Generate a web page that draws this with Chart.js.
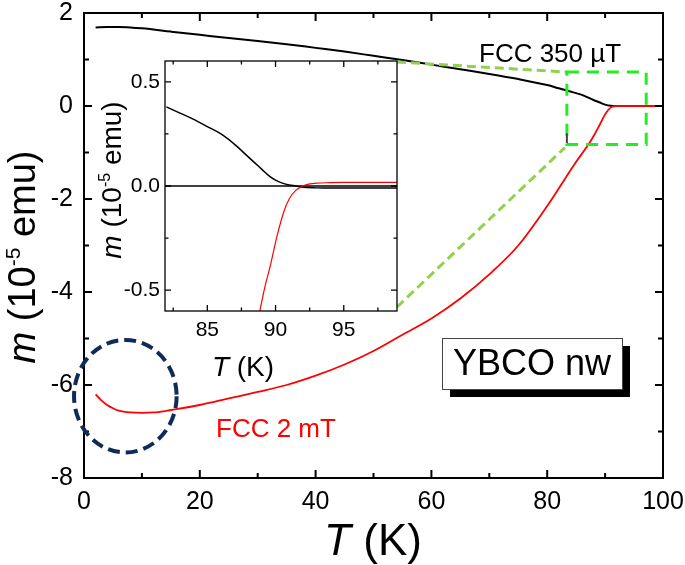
<!DOCTYPE html>
<html>
<head>
<meta charset="utf-8">
<script src="https://cdn.jsdelivr.net/npm/chart.js@4.4.0/dist/chart.umd.min.js"></script>
<style>
  body { margin: 0; background: #fff; }
  #wrap { position: relative; width: 685px; height: 565px; }
  #main { position: absolute; left: 0; top: 0; }
  #inset { position: absolute; left: 86px; top: 50px; }
</style>
</head>
<body>
<div id="wrap">
  <canvas id="main" width="685" height="565"></canvas>
  <canvas id="inset" width="325" height="340"></canvas>
</div>
<script>
// FCC 350 µT (negro)
const tBlack = [2, 4, 6, 8, 10, 15, 20, 25, 30, 35, 40, 45, 50, 55, 60, 65, 70, 75, 80, 82, 84, 86, 88, 89, 90, 91, 92, 94, 96, 98, 100];
const mBlack = [1.69, 1.70, 1.70, 1.69, 1.67, 1.60, 1.53, 1.46, 1.40, 1.33, 1.25, 1.17, 1.08, 0.99, 0.89, 0.79, 0.69, 0.58, 0.45, 0.38, 0.31, 0.24, 0.13, 0.08, 0.03, 0.005, 0, 0, 0, 0, 0];

// FCC 2 mT (rojo)
const tRed = [2, 3, 4, 5, 6, 8, 10, 12, 14, 16, 20, 25, 30, 35, 40, 45, 50, 55, 60, 65, 70, 75, 80, 83, 85, 87, 88, 89, 90, 91, 92, 94, 96, 98, 100];
const mRed = [-6.20, -6.33, -6.43, -6.50, -6.55, -6.59, -6.60, -6.59, -6.56, -6.52, -6.43, -6.29, -6.15, -6.00, -5.80, -5.56, -5.27, -4.92, -4.57, -4.14, -3.62, -3.00, -2.15, -1.58, -1.20, -0.85, -0.65, -0.42, -0.18, -0.03, 0, 0, 0, 0, 0];

// inset
const tInsBlack = [82, 83, 84, 85, 86, 87, 88, 88.5, 89, 89.5, 90, 90.5, 91, 91.5, 92, 93, 94, 95, 96, 97, 98, 99];
const mInsBlack = [0.38, 0.35, 0.32, 0.285, 0.25, 0.20, 0.14, 0.11, 0.08, 0.05, 0.028, 0.014, 0.005, 0, -0.006, -0.009, -0.01, -0.01, -0.01, -0.01, -0.01, -0.01];
const tInsRed = [88.85, 89.2, 89.6, 90.1, 90.6, 91.0, 91.5, 92.0, 92.5, 93, 94, 95, 96, 97, 98, 99];
const mInsRed = [-0.60, -0.49, -0.387, -0.243, -0.125, -0.062, -0.02, 0, 0.01, 0.014, 0.016, 0.017, 0.017, 0.017, 0.017, 0.017];

// ticks
const mainTTicks = [0, 20, 40, 60, 80, 100];
const mainTMinor = [10, 30, 50, 70, 90];
const mainMTicks = [-8, -6, -4, -2, 0, 2];
const mainMMinor = [-7, -5, -3, -1, 1];
const insTTicks = [85, 90, 95];
const insTMinor = [82.5, 87.5, 92.5, 97.5];
const insMTicks = [-0.5, 0, 0.5];
const insMMinor = [-0.25, 0.25];

// recuadro de zoom y elipse (en unidades de datos)
const zoomBoxT = [83.4, 97.1];
const zoomBoxM = [-0.83, 0.73];
const ellipseC = [7.14, -6.24];
const ellipseR = [8.86, 1.21];

const INSET_X = 86, INSET_Y = 50;
const FONT = '"Liberation Sans", Arial, sans-serif';
Chart.defaults.font.family = FONT;
Chart.defaults.color = '#000';

function pts(xs, ys) { return xs.map((x, i) => ({ x: x, y: ys[i] })); }

function drawParts(ctx, parts, x, y) {
  let w = 0;
  parts.forEach(p => { ctx.font = p.font; p.w = ctx.measureText(p.t).width; w += p.w; });
  let cx = x - w / 2;
  ctx.textAlign = 'left';
  ctx.textBaseline = 'alphabetic';
  parts.forEach(p => { ctx.font = p.font; ctx.fillText(p.t, cx, y + (p.dy || 0)); cx += p.w; });
}

function drawTicks(ctx, chart, xs, ys, len) {
  const a = chart.chartArea, sx = chart.scales.x, sy = chart.scales.y;
  ctx.beginPath();
  xs.forEach(v => {
    const px = sx.getPixelForValue(v);
    ctx.moveTo(px, a.bottom); ctx.lineTo(px, a.bottom - len);
    ctx.moveTo(px, a.top); ctx.lineTo(px, a.top + len);
  });
  ys.forEach(v => {
    const py = sy.getPixelForValue(v);
    ctx.moveTo(a.left, py); ctx.lineTo(a.left + len, py);
    ctx.moveTo(a.right, py); ctx.lineTo(a.right - len, py);
  });
  ctx.stroke();
}

// escala con ticks fijos; tamaño fijo y sin relleno automático
function tickScale(list, size, extra) {
  return Object.assign({
    type: 'linear',
    afterBuildTicks: s => { s.ticks = list.map(v => ({ value: v })); },
    afterFit: s => {
      if (s.isHorizontal()) s.height = size; else s.width = size;
      s.paddingTop = s.paddingBottom = s.paddingLeft = s.paddingRight = 0;
    },
    grid: { display: false, drawTicks: false },
    border: { display: false }
  }, extra);
}

// ---------- inset ----------
const insetDeco = {
  id: 'insetDeco',
  beforeDatasetsDraw(chart) {
    const ctx = chart.ctx, a = chart.chartArea;
    ctx.save();
    ctx.fillStyle = '#fff';
    ctx.fillRect(a.left, a.top, a.right - a.left, a.bottom - a.top);
    const y0 = chart.scales.y.getPixelForValue(0);
    ctx.strokeStyle = '#000';
    ctx.lineWidth = 1.3;
    ctx.beginPath(); ctx.moveTo(a.left, y0); ctx.lineTo(a.right, y0); ctx.stroke();
    ctx.restore();
  },
  afterDraw(chart) {
    const ctx = chart.ctx, a = chart.chartArea;
    ctx.save();
    ctx.strokeStyle = '#000';
    ctx.lineWidth = 1.3;
    ctx.strokeRect(a.left, a.top, a.right - a.left, a.bottom - a.top);
    drawTicks(ctx, chart, insTTicks, insMTicks, 6);
    drawTicks(ctx, chart, insTMinor, insMMinor, 3.5);
    ctx.fillStyle = '#000';
    drawParts(ctx, [
      { t: 'T', font: 'italic 28px ' + FONT },
      { t: ' (K)', font: '28px ' + FONT }
    ], 157, 326);
    ctx.translate(35, 130);
    ctx.rotate(-Math.PI / 2);
    drawParts(ctx, [
      { t: 'm', font: 'italic 28px ' + FONT },
      { t: ' (10', font: '28px ' + FONT },
      { t: '-5', font: '16px ' + FONT, dy: -11 },
      { t: ' emu)', font: '28px ' + FONT }
    ], 0, 0);
    ctx.restore();
  }
};

const inset = new Chart(document.getElementById('inset'), {
  type: 'line',
  data: {
    datasets: [
      { data: pts(tInsRed, mInsRed), borderColor: '#ff0000', borderWidth: 1.2, pointRadius: 0, cubicInterpolationMode: 'monotone' },
      { data: pts(tInsBlack, mInsBlack), borderColor: '#000', borderWidth: 1.5, pointRadius: 0, cubicInterpolationMode: 'monotone' }
    ]
  },
  options: {
    responsive: false,
    animation: false,
    events: [],
    layout: { autoPadding: false, padding: { top: 11, right: 14, left: 0, bottom: 0 } },
    plugins: { legend: { display: false }, tooltip: { enabled: false } },
    scales: {
      x: tickScale(insTTicks, 79, {
        min: 81.9, max: 98.9,
        ticks: { padding: 7, font: { size: 21 }, maxRotation: 0, autoSkip: false }
      }),
      y: tickScale(insMTicks, 79, {
        min: -0.6, max: 0.6,
        ticks: { padding: 5, font: { size: 21 }, callback: v => v.toFixed(1) }
      })
    }
  },
  plugins: [insetDeco]
});

// ---------- principal ----------
const mainDeco = {
  id: 'mainDeco',
  afterDraw(chart) {
    const ctx = chart.ctx, a = chart.chartArea;
    const sx = chart.scales.x, sy = chart.scales.y;
    ctx.save();
    ctx.strokeStyle = '#000';
    ctx.lineWidth = 2;
    ctx.strokeRect(a.left, a.top, a.right - a.left, a.bottom - a.top);
    drawTicks(ctx, chart, mainTTicks, mainMTicks, 8);
    drawTicks(ctx, chart, mainTMinor, mainMMinor, 5);

    // líneas verdes hacia el inset
    const ia = inset.chartArea;
    const bx = sx.getPixelForValue(zoomBoxT[0]);
    ctx.strokeStyle = '#92d050';
    ctx.lineWidth = 3;
    ctx.setLineDash([9, 5]);
    ctx.beginPath();
    ctx.moveTo(INSET_X + ia.right, INSET_Y + ia.top + 1);
    ctx.lineTo(bx, sy.getPixelForValue(zoomBoxM[1]));
    ctx.moveTo(INSET_X + ia.right, INSET_Y + ia.bottom - 4);
    ctx.lineTo(bx - 2, sy.getPixelForValue(zoomBoxM[0]) + 3);
    ctx.stroke();

    // recuadro verde
    ctx.strokeStyle = '#22ee22';
    ctx.setLineDash([12, 8]);
    const rx0 = bx, rx1 = sx.getPixelForValue(zoomBoxT[1]);
    const ry0 = sy.getPixelForValue(zoomBoxM[1]), ry1 = sy.getPixelForValue(zoomBoxM[0]);
    ctx.strokeRect(rx0, ry0, rx1 - rx0, ry1 - ry0);
    ctx.strokeStyle = '#444';
    ctx.lineWidth = 2;
    ctx.setLineDash([]);
    ctx.beginPath();
    ctx.moveTo(rx0, sy.getPixelForValue(-0.59));
    ctx.lineTo(rx0, sy.getPixelForValue(-0.80));
    ctx.stroke();

    // elipse azul
    const ecx = sx.getPixelForValue(ellipseC[0]), ecy = sy.getPixelForValue(ellipseC[1]);
    const erx = sx.getPixelForValue(ellipseC[0] + ellipseR[0]) - ecx;
    const ery = ecy - sy.getPixelForValue(ellipseC[1] + ellipseR[1]);
    ctx.strokeStyle = '#0f2b5b';
    ctx.lineWidth = 4;
    ctx.setLineDash([12, 6]);
    ctx.beginPath();
    ctx.ellipse(ecx, ecy, erx, ery, 0, 0, Math.PI * 2);
    ctx.stroke();
    ctx.setLineDash([]);

    // etiquetas
    ctx.textAlign = 'left';
    ctx.textBaseline = 'alphabetic';
    ctx.fillStyle = '#000';
    ctx.font = '26px ' + FONT;
    ctx.fillText('FCC 350 µT', 479, 62);
    ctx.fillStyle = '#ff0000';
    ctx.fillText('FCC 2 mT', 216, 437);

    // caja YBCO nw
    ctx.fillStyle = '#000';
    ctx.fillRect(450, 346, 180, 51);
    ctx.fillStyle = '#fff';
    ctx.fillRect(442, 338, 180, 51);
    ctx.strokeStyle = '#444';
    ctx.lineWidth = 1;
    ctx.strokeRect(442.5, 338.5, 180, 51);
    ctx.fillStyle = '#000';
    ctx.font = '36px ' + FONT;
    ctx.textAlign = 'center';
    ctx.fillText('YBCO nw', 532, 375);

    // títulos de ejes
    drawParts(ctx, [
      { t: 'T', font: 'italic 44px ' + FONT },
      { t: ' (K)', font: '44px ' + FONT }
    ], 373, 555);
    ctx.translate(35, 257);
    ctx.rotate(-Math.PI / 2);
    drawParts(ctx, [
      { t: 'm', font: 'italic 38px ' + FONT },
      { t: ' (10', font: '38px ' + FONT },
      { t: '-5', font: '21px ' + FONT, dy: -15 },
      { t: ' emu)', font: '38px ' + FONT }
    ], 0, 0);
    ctx.restore();
  }
};

const main = new Chart(document.getElementById('main'), {
  type: 'line',
  data: {
    datasets: [
      { data: pts(tRed, mRed), borderColor: '#ff0000', borderWidth: 1.8, pointRadius: 0, cubicInterpolationMode: 'monotone' },
      { data: pts(tBlack, mBlack), borderColor: '#000', borderWidth: 2, pointRadius: 0, cubicInterpolationMode: 'monotone' }
    ]
  },
  options: {
    responsive: false,
    animation: false,
    events: [],
    layout: { autoPadding: false, padding: { top: 13, right: 22, left: 0, bottom: 0 } },
    plugins: { legend: { display: false }, tooltip: { enabled: false } },
    scales: {
      x: tickScale(mainTTicks, 87, {
        min: 0, max: 100,
        ticks: { padding: 9, font: { size: 25 }, maxRotation: 0, autoSkip: false }
      }),
      y: tickScale(mainMTicks, 84, {
        min: -8, max: 2,
        ticks: { padding: 11, font: { size: 25 } }
      })
    }
  },
  plugins: [mainDeco]
});
</script>
</body>
</html>
